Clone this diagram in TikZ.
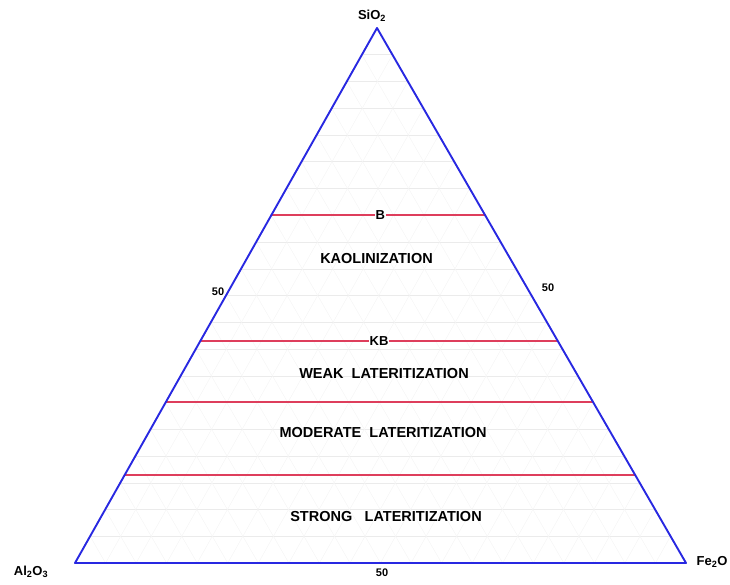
\documentclass[tikz,border=0pt]{standalone}
\usepackage{fontspec}
\setmainfont{Liberation Sans}
\usetikzlibrary{calc}

\definecolor{edgeblue}{RGB}{40,40,225}
\definecolor{zonered}{RGB}{222,62,92}

\begin{document}
\begin{tikzpicture}[
  x=1pt, y=1pt,
  line cap=round,
  line join=round,
  zone/.style={font=\fontsize{14.5}{16}\selectfont\bfseries},
  tag/.style={font=\fontsize{13}{15}\selectfont\bfseries, fill=white, inner sep=0.8pt},
  tick/.style={font=\fontsize{11}{13}\selectfont\bfseries},
  apex/.style={font=\fontsize{13}{15}\selectfont\bfseries},
  gridline/.style={black!8, line width=0.5pt},
  skewline/.style={black!4, line width=0.5pt},
  boundary/.style={zonered, line width=1.8pt},
  side/.style={edgeblue, line width=1.9pt}
]
  \useasboundingbox (0,0) rectangle (730,584);

  % Vertices of the ternary triangle
  \coordinate (A) at ( 75, 21);  % Al2O3
  \coordinate (F) at (686, 21);  % Fe2O
  \coordinate (S) at (377,556);  % SiO2

  % Faint 5% grid in the three directions
  \foreach \k in {1,...,19} {
    \pgfmathsetmacro\t{\k/20}
    \draw[gridline] ($(A)!\t!(S)$) -- ($(F)!\t!(S)$);
    \draw[skewline] ($(A)!\t!(F)$) -- ($(S)!\t!(F)$);
    \draw[skewline] ($(A)!\t!(F)$) -- ($(A)!\t!(S)$);
  }

  % Zone boundaries
  \foreach \t/\n in {0.650/b, 0.415/kb, 0.301/wm, 0.164/ms}
    \draw[boundary] ($(A)!\t!(S)$) coordinate (\n l)
                 -- ($(F)!\t!(S)$) coordinate (\n r);

  % Triangle sides
  \draw[side] (A) -- (F) -- (S) -- cycle;

  % Boundary tags
  \node[tag] (tagB)  at ($(bl)!0.51!(br)$)   {B};
  \node[tag] (tagKB) at ($(kbl)!0.5!(kbr)$)  {KB};

  % Zone names
  \node[zone] (kaol)   at (376.5,325) {KAOLINIZATION};
  \node[zone] (weak)   at (384,210)   {WEAK\ \ LATERITIZATION};
  \node[zone] (moder)  at (383,151)   {MODERATE\ \ LATERITIZATION};
  \node[zone] (strong) at (386,67)    {STRONG\hspace{0.85em}LATERITIZATION};

  % Vertex labels
  \node[apex] (sio2)  at (372,568) {SiO\textsubscript{2}};
  \node[apex] (al2o3) at (31,12)   {Al\textsubscript{2}O\textsubscript{3}};
  \node[apex] (fe2o)  at (712,22)  {Fe\textsubscript{2}O};

  % Scale marks
  \node[tick] (midL) at (218,292) {50};
  \node[tick] (midR) at (548,296) {50};
  \node[tick] (midB) at (382,11)  {50};
\end{tikzpicture}
\end{document}
